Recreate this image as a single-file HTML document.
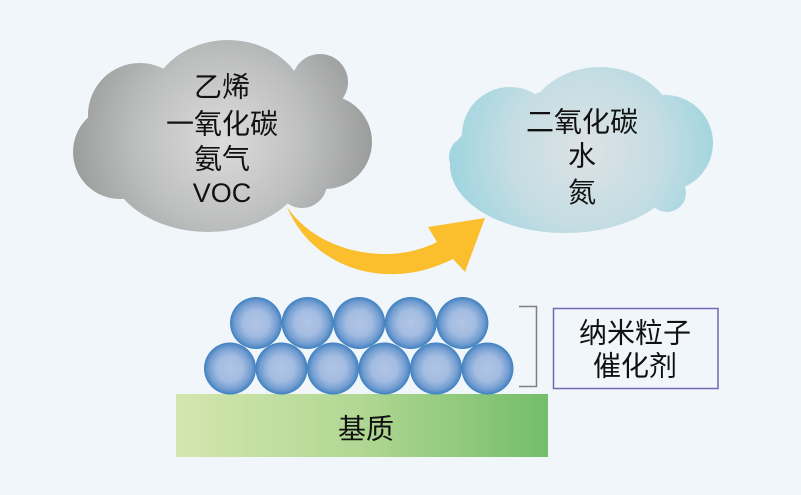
<!DOCTYPE html>
<html><head><meta charset="utf-8"><style>
html,body{margin:0;padding:0;background:#f1f6fb;}
svg{display:block;}
text{font-family:"Liberation Sans","Noto Sans CJK SC",sans-serif;fill:#111;}
</style></head><body>
<svg width="801" height="495" viewBox="0 0 801 495" xmlns="http://www.w3.org/2000/svg">
<defs>
<radialGradient id="gg" gradientUnits="userSpaceOnUse" cx="222" cy="140" r="155">
<stop offset="0" stop-color="#dcdcdc"/>
<stop offset="0.55" stop-color="#bdbebe"/>
<stop offset="1" stop-color="#999a9a"/>
</radialGradient>
<radialGradient id="bg" gradientUnits="userSpaceOnUse" cx="585" cy="150" r="140">
<stop offset="0" stop-color="#dde2e5"/>
<stop offset="0.55" stop-color="#c4dde3"/>
<stop offset="1" stop-color="#9dd4df"/>
</radialGradient>
<radialGradient id="cg" cx="0.5" cy="0.5" r="0.5">
<stop offset="0" stop-color="#b1c5e6"/>
<stop offset="0.5" stop-color="#a3bce1"/>
<stop offset="0.82" stop-color="#729dd1"/>
<stop offset="1" stop-color="#3e80bf"/>
</radialGradient>
<linearGradient id="sg" x1="0" y1="0" x2="1" y2="0">
<stop offset="0" stop-color="#d4e6ae"/>
<stop offset="0.5" stop-color="#b0d793"/>
<stop offset="1" stop-color="#74bd6a"/>
</linearGradient>
</defs>

<!-- gray cloud -->
<g fill="url(#gg)">
<ellipse cx="225" cy="140" rx="110" ry="70"/>
<ellipse cx="228" cy="110" rx="80" ry="70"/>
<circle cx="140" cy="115" r="52"/>
<circle cx="320" cy="82" r="28"/>
<circle cx="325" cy="142" r="47"/>
<circle cx="302" cy="183" r="25"/>
<ellipse cx="208" cy="160" rx="100" ry="72"/>
<circle cx="120" cy="152" r="47"/>
</g>

<!-- blue cloud -->
<g fill="url(#bg)">
<ellipse cx="585" cy="150" rx="100" ry="65"/>
<circle cx="470" cy="157" r="21"/>
<circle cx="510" cy="135" r="48"/>
<ellipse cx="600" cy="130" rx="75" ry="63"/>
<circle cx="665" cy="143" r="48"/>
<circle cx="667" cy="193" r="19"/>
<ellipse cx="565" cy="165" rx="115" ry="68"/>
<circle cx="505" cy="170" r="42"/>
</g>

<!-- arrow -->
<path d="M287 207 C310 240 350 255 390 254 C410 253 425 248 437 242 L428 227 L485 218 L465 272 L453 259 C430 270 410 275 385 274 C345 272 305 250 287 207 Z" fill="#fbbe2c"/>

<!-- gray text -->
<g text-anchor="middle" font-size="28">
<text x="222" y="96.5">乙烯</text>
<text x="222" y="133.5">一氧化碳</text>
<text x="222" y="168.5">氨气</text>
<text x="222" y="202" font-size="27">VOC</text>
</g>

<!-- blue text -->
<g text-anchor="middle" font-size="28">
<text x="582" y="131.5">二氧化碳</text>
<text x="582" y="165.5">水</text>
<text x="582" y="202">氮</text>
</g>

<!-- substrate -->
<rect x="176" y="394" width="372" height="63" fill="url(#sg)"/>
<text x="366" y="438.5" text-anchor="middle" font-size="28">基质</text>

<!-- particles top row -->
<g fill="url(#cg)">
<circle cx="256" cy="323" r="26"/>
<circle cx="307.6" cy="323" r="26"/>
<circle cx="359.2" cy="323" r="26"/>
<circle cx="410.8" cy="323" r="26"/>
<circle cx="462.4" cy="323" r="26"/>
</g>
<g fill="url(#cg)">
<circle cx="230" cy="368.5" r="26"/>
<circle cx="281.5" cy="368.5" r="26"/>
<circle cx="333" cy="368.5" r="26"/>
<circle cx="384.5" cy="368.5" r="26"/>
<circle cx="436" cy="368.5" r="26"/>
<circle cx="487.5" cy="368.5" r="26"/>
</g>

<!-- bracket -->
<polyline points="519,306.5 536.5,306.5 536.5,386.5 519,386.5" fill="none" stroke="#808080" stroke-width="1.5"/>

<!-- label box -->
<rect x="553.5" y="308.5" width="164.5" height="80" fill="none" stroke="#7466b0" stroke-width="1.5"/>
<g text-anchor="middle" font-size="28">
<text x="635" y="342.5">纳米粒子</text>
<text x="635" y="375.5">催化剂</text>
</g>
</svg>
</body></html>
